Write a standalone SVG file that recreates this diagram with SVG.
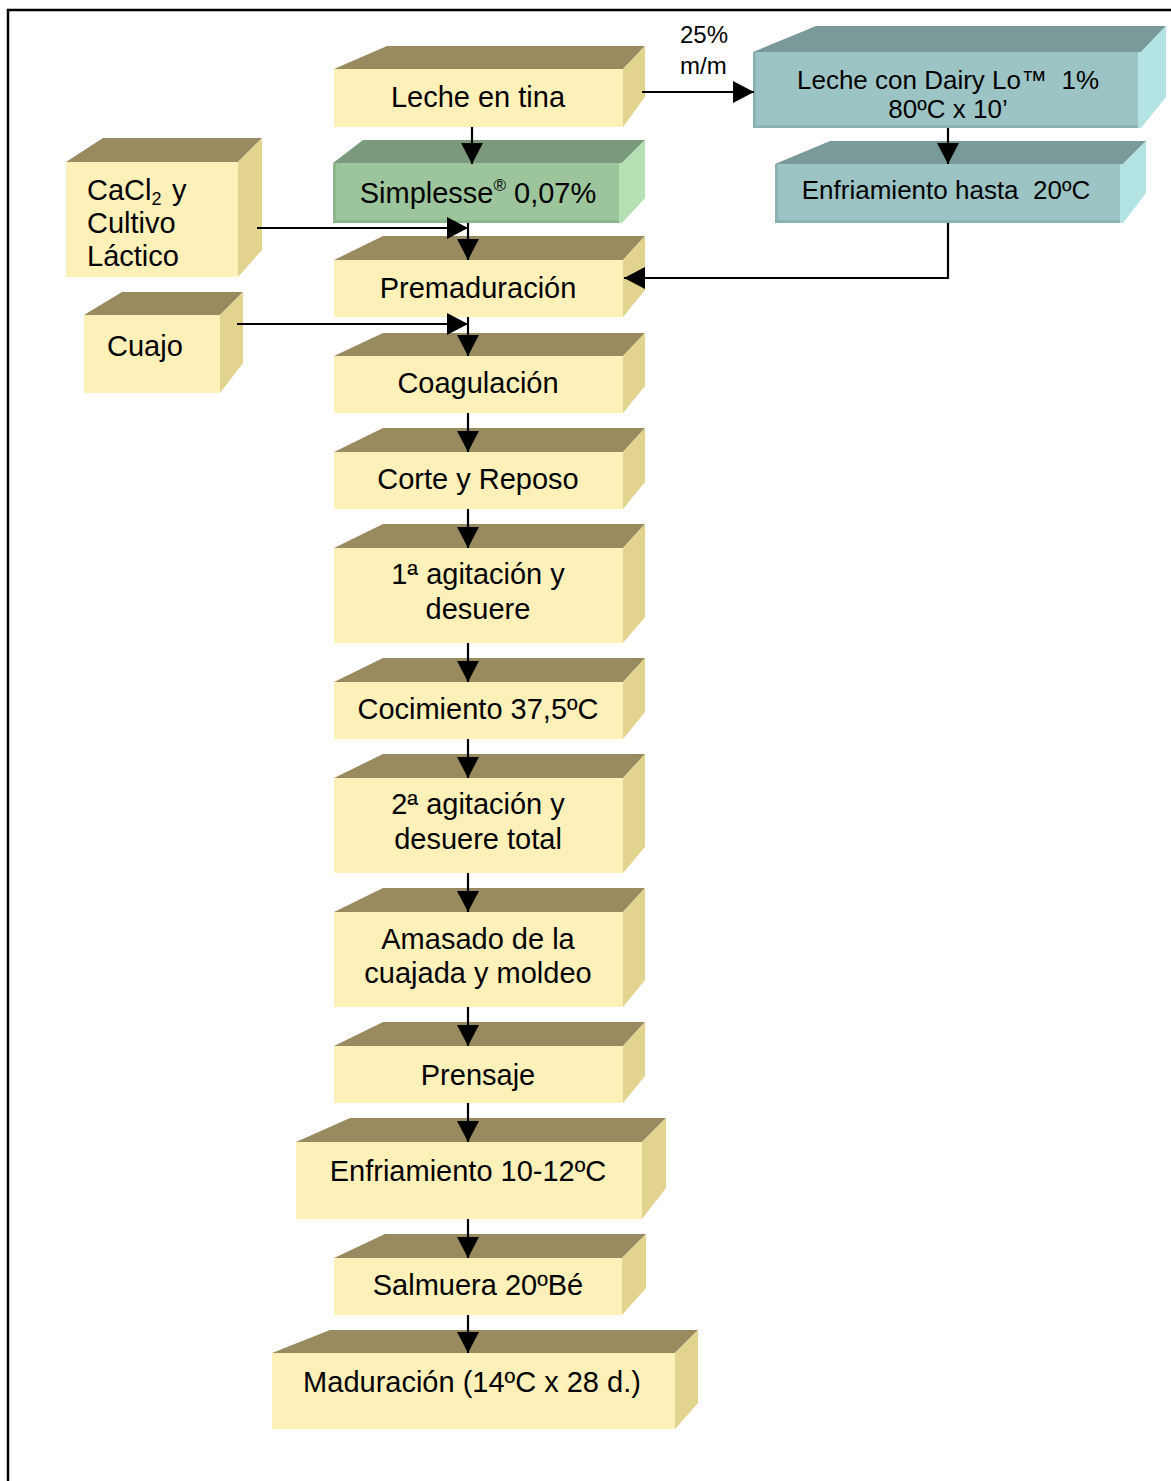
<svg xmlns="http://www.w3.org/2000/svg" width="1171" height="1481" viewBox="0 0 1171 1481">
<defs>
<style>
.fy{fill:#FEF0B9}.ty{fill:#998B5F}.ry{fill:#E2D38F}
.fg{fill:#9CC59C}.tg{fill:#7B997B}.rg{fill:#B4E0B4}
.ft{fill:#9DC4C4}.tt{fill:#7A9999}.rt{fill:#B3E3E3}
.eg{fill:#8DB68D}.et{fill:#8CB3B3}
text{font-family:"Liberation Sans",Arial,sans-serif;fill:#000;white-space:pre}
.m{font-size:29px;text-anchor:middle}
.s{font-size:26px;text-anchor:middle}
.l{font-size:29px}
.c{stroke:#000;stroke-width:2.2;fill:none}
</style>
<marker id="ah" markerUnits="userSpaceOnUse" markerWidth="22" markerHeight="22" refX="21" refY="11" orient="auto" viewBox="0 0 22 22">
<path d="M0,0 L21,11 L0,22 z" fill="#000"/>
</marker>
</defs>
<rect width="1171" height="1481" fill="#fff"/>
<path d="M8,1481 V10 H1171" stroke="#000" stroke-width="2.5" fill="none"/>

<g id="n-leche">
<rect class="fy" x="334" y="69" width="289" height="58"/>
<polygon class="ty" points="334,69 387,46 645,46 623,69"/>
<polygon class="ry" points="623,69 645,46 645,97 623,127"/>
<text class="m" x="478" y="107">Leche en tina</text>
</g>
<g id="n-simplesse">
<rect class="fg" x="333" y="163" width="289" height="60"/>
<polygon class="tg" points="333,163 363,140 645,140 622,163"/>
<polygon class="rg" points="622,163 645,140 645,198 622,223"/>
<rect class="eg" x="333" y="220" width="289" height="3"/>
<rect class="eg" x="333" y="163" width="3" height="60"/>
<rect class="rg" x="619" y="163" width="3" height="60"/>
<text class="m" x="478" y="203">Simplesse<tspan font-size="17" dy="-12">®</tspan><tspan dy="12"> 0,07%</tspan></text>
</g>
<g id="n-premad">
<rect class="fy" x="334" y="260" width="289" height="57"/>
<polygon class="ty" points="334,260 383,236 645,236 623,260"/>
<polygon class="ry" points="623,260 645,236 645,290 623,317"/>
<text class="m" x="478" y="298">Premaduración</text>
</g>
<g id="n-coag">
<rect class="fy" x="334" y="356" width="289" height="57"/>
<polygon class="ty" points="334,356 383,333 645,333 623,356"/>
<polygon class="ry" points="623,356 645,333 645,386 623,413"/>
<text class="m" x="478" y="393">Coagulación</text>
</g>
<g id="n-corte">
<rect class="fy" x="334" y="452" width="289" height="57"/>
<polygon class="ty" points="334,452 383,428 645,428 623,452"/>
<polygon class="ry" points="623,452 645,428 645,482 623,509"/>
<text class="m" x="478" y="489">Corte y Reposo</text>
</g>
<g id="n-agit1">
<rect class="fy" x="334" y="548" width="289" height="95"/>
<polygon class="ty" points="334,548 383,524 645,524 623,548"/>
<polygon class="ry" points="623,548 645,524 645,617 623,643"/>
<text class="m" x="478" y="584">1ª agitación y</text>
<text class="m" x="478" y="619">desuere</text>
</g>
<g id="n-cocim">
<rect class="fy" x="334" y="682" width="289" height="57"/>
<polygon class="ty" points="334,682 383,658 645,658 623,682"/>
<polygon class="ry" points="623,682 645,658 645,712 623,739"/>
<text class="m" x="478" y="719">Cocimiento 37,5ºC</text>
</g>
<g id="n-agit2">
<rect class="fy" x="334" y="778" width="289" height="95"/>
<polygon class="ty" points="334,778 383,754 645,754 623,778"/>
<polygon class="ry" points="623,778 645,754 645,847 623,873"/>
<text class="m" x="478" y="814">2ª agitación y</text>
<text class="m" x="478" y="849">desuere total</text>
</g>
<g id="n-amasado">
<rect class="fy" x="334" y="912" width="289" height="95"/>
<polygon class="ty" points="334,912 383,888 645,888 623,912"/>
<polygon class="ry" points="623,912 645,888 645,980 623,1007"/>
<text class="m" x="478" y="949">Amasado de la</text>
<text class="m" x="478" y="983">cuajada y moldeo</text>
</g>
<g id="n-prensaje">
<rect class="fy" x="334" y="1046" width="289" height="57"/>
<polygon class="ty" points="334,1046 383,1022 645,1022 623,1046"/>
<polygon class="ry" points="623,1046 645,1022 645,1076 623,1103"/>
<text class="m" x="478" y="1085">Prensaje</text>
</g>
<g id="n-enfr">
<rect class="fy" x="296" y="1142" width="346" height="77"/>
<polygon class="ty" points="296,1142 350,1118 666,1118 642,1142"/>
<polygon class="ry" points="642,1142 666,1118 666,1188 642,1219"/>
<text class="m" x="468" y="1181">Enfriamiento 10-12ºC</text>
</g>
<g id="n-salmuera">
<rect class="fy" x="334" y="1258" width="288" height="57"/>
<polygon class="ty" points="334,1258 385,1234 646,1234 622,1258"/>
<polygon class="ry" points="622,1258 646,1234 646,1288 622,1315"/>
<text class="m" x="478" y="1295">Salmuera 20ºBé</text>
</g>
<g id="n-madur">
<rect class="fy" x="272" y="1353" width="403" height="76"/>
<polygon class="ty" points="272,1353 330,1330 698,1330 675,1353"/>
<polygon class="ry" points="675,1353 698,1330 698,1403 675,1429"/>
<text class="m" x="472" y="1392">Maduración (14ºC x 28 d.)</text>
</g>
<g id="n-cacl2">
<rect class="fy" x="66" y="162" width="172" height="115"/>
<polygon class="ty" points="66,162 103,138 262,138 238,162"/>
<polygon class="ry" points="238,162 262,138 262,250 238,277"/>
<text class="l" x="87" y="200">CaCl<tspan font-size="18" dy="5">2</tspan><tspan x="172" dy="-5">y</tspan></text>
<text class="l" x="87" y="233">Cultivo</text>
<text class="l" x="87" y="266">Láctico</text>
</g>
<g id="n-cuajo">
<rect class="fy" x="84" y="315" width="136" height="78"/>
<polygon class="ty" points="84,315 122,292 243,292 220,315"/>
<polygon class="ry" points="220,315 243,292 243,363 220,393"/>
<text class="l" x="107" y="356">Cuajo</text>
</g>
<g id="n-dairylo">
<rect class="ft" x="753" y="52" width="388" height="76"/>
<polygon class="tt" points="753,52 816,26 1166,26 1141,52"/>
<polygon class="rt" points="1141,52 1166,26 1166,97 1141,128"/>
<rect class="et" x="753" y="125" width="388" height="3"/>
<rect class="et" x="753" y="52" width="3" height="76"/>
<rect class="rt" x="1138" y="52" width="3" height="76"/>
<text class="s" x="948" y="89">Leche con Dairy Lo™  1%</text>
<text class="s" x="948" y="118">80ºC x 10’</text>
</g>
<g id="n-enfr20">
<rect class="ft" x="775" y="164" width="348" height="59"/>
<polygon class="tt" points="775,164 830,141 1146,141 1123,164"/>
<polygon class="rt" points="1123,164 1146,141 1146,193 1123,223"/>
<rect class="et" x="775" y="220" width="348" height="3"/>
<rect class="et" x="775" y="164" width="3" height="59"/>
<rect class="rt" x="1120" y="164" width="3" height="59"/>
<text class="s" x="946" y="199">Enfriamiento hasta  20ºC</text>
</g>
<g id="label-25">
<text x="680" y="43" font-size="24">25%</text>
<text x="680" y="74" font-size="24">m/m</text>
</g>

<g id="connectors">
<path class="c" marker-end="url(#ah)" d="M472,127 V164"/>
<path class="c" marker-end="url(#ah)" d="M468,223 V260"/>
<path class="c" marker-end="url(#ah)" d="M257,228 H468"/>
<path class="c" marker-end="url(#ah)" d="M237,324 H468"/>
<path class="c" marker-end="url(#ah)" d="M468,317 V356"/>
<path class="c" marker-end="url(#ah)" d="M468,413 V452"/>
<path class="c" marker-end="url(#ah)" d="M468,509 V548"/>
<path class="c" marker-end="url(#ah)" d="M468,643 V682"/>
<path class="c" marker-end="url(#ah)" d="M468,739 V778"/>
<path class="c" marker-end="url(#ah)" d="M468,873 V912"/>
<path class="c" marker-end="url(#ah)" d="M468,1007 V1046"/>
<path class="c" marker-end="url(#ah)" d="M468,1103 V1142"/>
<path class="c" marker-end="url(#ah)" d="M468,1219 V1258"/>
<path class="c" marker-end="url(#ah)" d="M468,1315 V1353"/>
<path class="c" marker-end="url(#ah)" d="M642,92 H754"/>
<path class="c" marker-end="url(#ah)" d="M948,128 V164"/>
<path class="c" marker-end="url(#ah)" d="M948,223 V278 H624"/>
</g>
</svg>
